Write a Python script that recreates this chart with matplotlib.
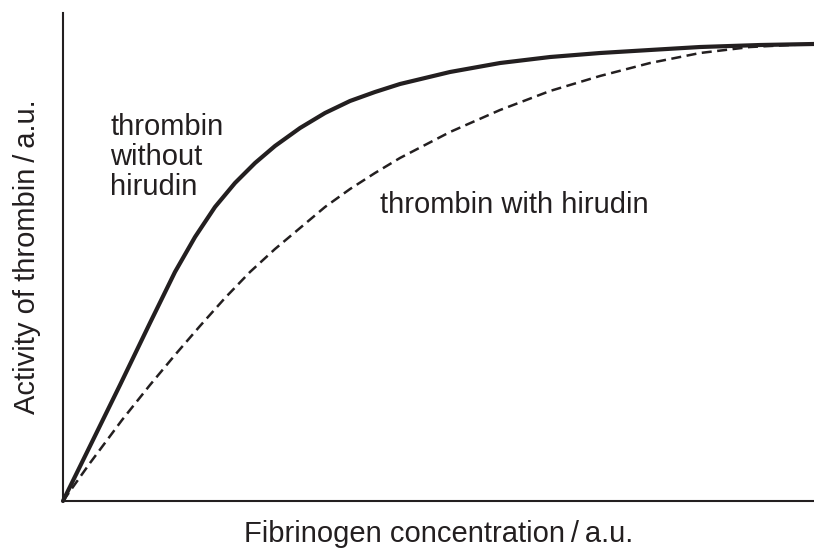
import matplotlib
matplotlib.use("Agg")
import matplotlib.pyplot as plt

plt.rcParams['font.family'] = ['Liberation Sans', 'DejaVu Sans']

# Fibrinogen concentration (a.u.) and thrombin activity (a.u.)
x_without = [0, 0.360, 0.759, 1.158, 1.491, 1.758, 2.024, 2.290, 2.557, 2.823, 3.156, 3.489,
             3.822, 4.154, 4.487, 5.153, 5.819, 6.485, 7.150, 7.816, 8.482, 9.281, 10.0]
y_without = [0, 1.127, 2.377, 3.648, 4.693, 5.410, 6.025, 6.516, 6.926, 7.275, 7.643, 7.951,
             8.197, 8.381, 8.545, 8.791, 8.975, 9.098, 9.180, 9.242, 9.303, 9.344, 9.365]

x_with = [0, 0.360, 0.786, 1.158, 1.491, 1.824, 2.157, 2.490, 2.823, 3.156, 3.489, 3.822,
          4.154, 4.487, 5.153, 5.819, 6.485, 7.150, 7.816, 8.482, 9.148, 9.680, 10.0]
y_with = [0, 0.779, 1.660, 2.377, 2.992, 3.586, 4.160, 4.693, 5.164, 5.594, 6.025, 6.393,
          6.721, 7.029, 7.561, 8.012, 8.402, 8.709, 8.975, 9.180, 9.303, 9.344, 9.365]

label_without = "thrombin\nwithout\nhirudin"
label_with = "thrombin with hirudin"
xlabel = "Fibrinogen concentration\u2009/\u2009a.u."
ylabel = "Activity of thrombin\u2009/\u2009a.u."

fig = plt.figure(figsize=(8.14, 5.5), dpi=100)
ax = fig.add_axes([63/814, 49/550, 751/814, 488/550])

ax.plot(x_without, y_without, color='#231f20', lw=3.0, solid_joinstyle='round',
        solid_capstyle='round', clip_on=False)
ax.plot(x_with, y_with, color='#231f20', lw=1.8, dashes=(4, 2.2),
        dash_joinstyle='round', clip_on=False)

ax.set_xlim(0, 10)
ax.set_ylim(0, 10)
for s in ['top', 'right']:
    ax.spines[s].set_visible(False)
for s in ['left', 'bottom']:
    ax.spines[s].set_linewidth(1.5)
    ax.spines[s].set_color('#231f20')
ax.set_xticks([])
ax.set_yticks([])

fs = 21
ax.set_xlabel(xlabel, fontsize=fs, color='#231f20', labelpad=14)
ax.set_ylabel(ylabel, fontsize=fs, color='#231f20', labelpad=16)

ax.text(0.626, 7.95, label_without, fontsize=fs, color='#231f20', va='top', ha='left', linespacing=1.1)
ax.text(4.22, 5.9, label_with, fontsize=fs, color='#231f20', va='baseline', ha='left')

fig.savefig('out.png', dpi=100)
